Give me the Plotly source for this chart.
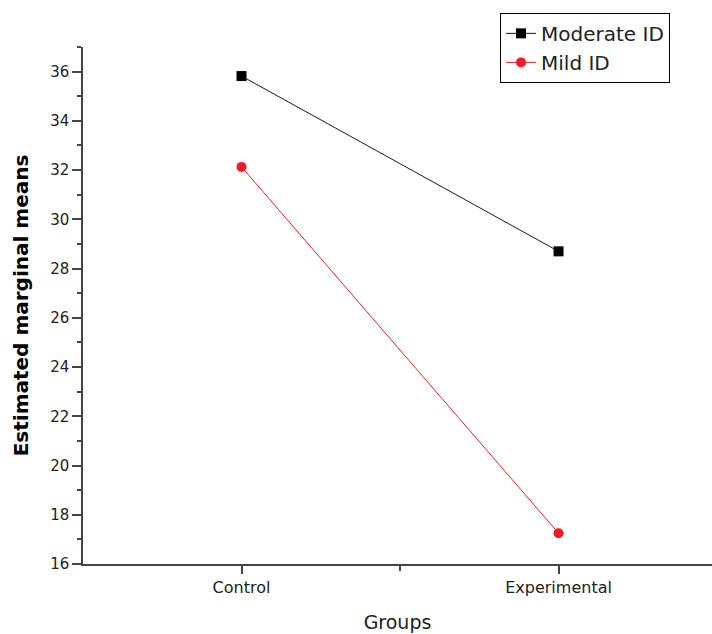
import plotly.graph_objects as go

categories = ["Control", "Experimental"]
moderate_id = [35.82, 28.70]
mild_id = [32.13, 17.25]
series_names = ["Moderate ID", "Mild ID"]

xpos = list(range(len(categories)))

fig = go.Figure()
fig.add_trace(go.Scatter(
    x=xpos, y=moderate_id, name=series_names[0], mode="lines+markers",
    line=dict(color="#1a1a1a", width=1),
    marker=dict(symbol="square", size=10, color="black"),
))
fig.add_trace(go.Scatter(
    x=xpos, y=mild_id, name=series_names[1], mode="lines+markers",
    line=dict(color="#ee2222", width=1),
    marker=dict(symbol="circle", size=10, color="#ee1c24"),
))

axis_color = "#444444"
fig.update_layout(
    width=712, height=634,
    margin=dict(l=83, r=0, t=47, b=70, autoexpand=False),
    paper_bgcolor="white", plot_bgcolor="white",
    showlegend=True,
    legend=dict(
        x=0.663, y=1.066, xanchor="left", yanchor="top",
        bordercolor="black", borderwidth=1, bgcolor="white",
        font=dict(family="DejaVu Sans", size=20, color="#222222"),
        tracegroupgap=0,
    ),
    font=dict(family="DejaVu Sans", color="#222222"),
)
fig.update_xaxes(
    range=[-0.5, 1.484],
    tickmode="array", tickvals=xpos, ticktext=categories,
    ticks="outside", ticklen=8, tickwidth=1.5, tickcolor=axis_color,
    minor=dict(tickmode="array", tickvals=[0.5], ticks="outside", ticklen=5,
               tickwidth=1.5, tickcolor=axis_color),
    showline=True, linecolor=axis_color, linewidth=1.5,
    showgrid=False, zeroline=False,
    tickfont=dict(family="DejaVu Sans", size=16, color="#222222"),
    title=dict(text="Groups", font=dict(family="DejaVu Sans", size=19, color="#222222"), standoff=20),
)
fig.update_yaxes(
    range=[16, 37],
    tickmode="linear", tick0=16, dtick=2,
    ticks="outside", ticklen=9, tickwidth=1.5, tickcolor=axis_color,
    minor=dict(tickmode="linear", tick0=17, dtick=2, ticks="outside", ticklen=4,
               tickwidth=1.5, tickcolor=axis_color),
    showline=True, linecolor=axis_color, linewidth=1.5,
    showgrid=False, zeroline=False,
    tickfont=dict(family="DejaVu Sans", size=15, color="#222222"),
    title=dict(text="<b>Estimated marginal means</b>",
               font=dict(family="DejaVu Sans", size=20, color="black"), standoff=16),
)

fig.write_html("out.html", config={"displayModeBar": False},
               post_script="document.body.style.margin='0';")
